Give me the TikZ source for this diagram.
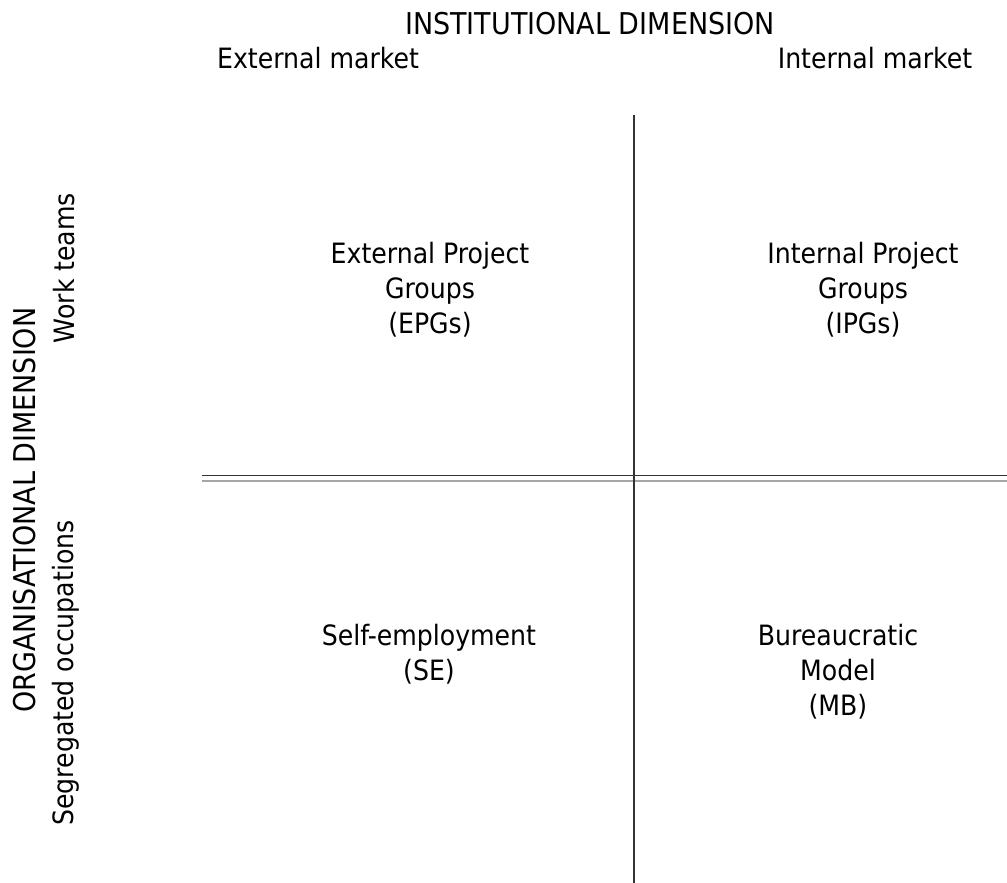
\documentclass[tikz,border=0pt]{standalone}
\usepackage{fontspec}
\setmainfont{DejaVu Sans Condensed}
\begin{document}
\begin{tikzpicture}[x=1pt,y=-1pt,
  lbl/.style={inner sep=0pt,font=\fontsize{28}{35}\selectfont,align=center,anchor=base},
  bigtext/.style={font=\fontsize{30}{35}\selectfont},
  vlbl/.style={lbl,rotate=90},
  axisline/.style={draw=black!80,line width=1.3pt},
  shadeline/.style={draw=black!35,line width=2pt}]
\useasboundingbox (0,0) rectangle (1007,883);
% labels at top
\node[lbl,bigtext] (inst) at (590,35) {INSTITUTIONAL DIMENSION};
\node[lbl] (ext) at (318,69) {External market};
\node[lbl] (int) at (875,69) {Internal market};
% labels at left
\node[vlbl,bigtext] (org) at (35,510) {ORGANISATIONAL DIMENSION};
\node[vlbl] (work) at (74,268) {Work teams};
\node[vlbl] (seg) at (73,673) {Segregated occupations};
% quadrants (anchor = baseline of last line)
\node[lbl] (epg) at (430,333) {External Project\\Groups\\(EPGs)};
\node[lbl] (ipg) at (863,333) {Internal Project\\Groups\\(IPGs)};
\node[lbl] (se) at (429,680) {Self-employment\\(SE)};
\node[lbl] (mb) at (838,715) {Bureaucratic\\Model\\(MB)};
% axes
\coordinate (vtop) at (634,115);
\coordinate (vbot) at (634,883);
\coordinate (hl) at (202,475.5);
\coordinate (hr) at (1007,475.5);
\coordinate (sl) at (202,480.5);
\coordinate (sr) at (1007,480.5);
\draw[shadeline] (sl) -- (sr);
\draw[axisline] (hl) -- (hr);
\draw[axisline] (vtop) -- (vbot);
\end{tikzpicture}
\end{document}
